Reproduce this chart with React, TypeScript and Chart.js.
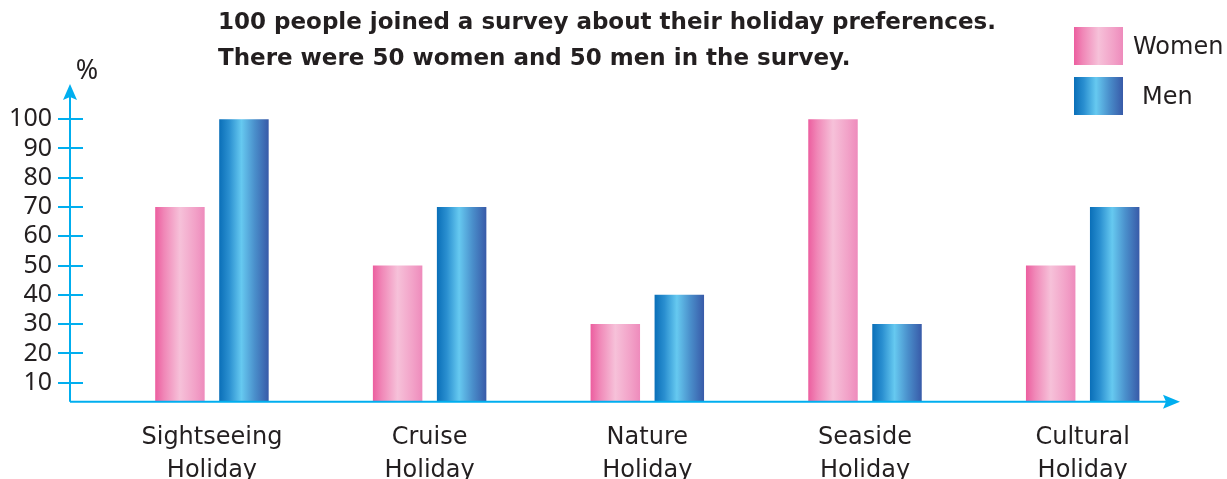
import React, { useEffect, useRef } from 'react';
import { Chart, registerables } from 'chart.js';

Chart.register(...registerables);

// ---- data ----
const titleLines = [
  '100 people joined a survey about their holiday preferences.',
  'There were 50 women and 50 men in the survey.',
];
const categories: string[][] = [
  ['Sightseeing', 'Holiday'],
  ['Cruise', 'Holiday'],
  ['Nature', 'Holiday'],
  ['Seaside', 'Holiday'],
  ['Cultural', 'Holiday'],
];
const seriesNames = ['Women', 'Men'];
const womenValues = [70, 50, 30, 100, 50];
const menValues = [100, 70, 40, 30, 70];
const yTicks = [10, 20, 30, 40, 50, 60, 70, 80, 90, 100];
const yUnit = '%';

// ---- styles ----
const pinkStops: [number, string][] = [
  [0, '#ec5e9f'],
  [0.18, '#f087b7'],
  [0.5, '#f6c1d9'],
  [0.8, '#f2a2c8'],
  [1, '#ee8bbc'],
];
const blueStops: [number, string][] = [
  [0, '#0a6fb8'],
  [0.2, '#2a8fd0'],
  [0.45, '#66c9f0'],
  [0.72, '#4a8fcb'],
  [1, '#385aa8'],
];
const seriesStops = [pinkStops, blueStops];
const AXIS = '#00aeef';
const TEXT = '#231f20';

function grad(ctx: CanvasRenderingContext2D, x0: number, x1: number, stops: [number, string][]) {
  const g = ctx.createLinearGradient(x0, 0, x1, 0);
  stops.forEach(([o, c]) => g.addColorStop(o, c));
  return g;
}

const decor = {
  id: 'decor',
  beforeDatasetsDraw(chart: any) {
    const ctx = chart.ctx;
    chart.data.datasets.forEach((_ds: any, di: number) => {
      const meta = chart.getDatasetMeta(di);
      meta.data.forEach((bar: any) => {
        const { x, width } = bar.getProps(['x', 'width'], true);
        const g = grad(ctx, x - width / 2, x + width / 2, seriesStops[di]);
        bar.options = Object.assign({}, bar.options, { backgroundColor: g });
      });
    });
  },
  afterDraw(chart: any) {
    const ctx: CanvasRenderingContext2D = chart.ctx;
    const { left, right, top, bottom } = chart.chartArea;
    const yScale = chart.scales.y;
    ctx.save();
    // axes
    ctx.strokeStyle = AXIS;
    ctx.fillStyle = AXIS;
    ctx.lineWidth = 2;
    ctx.beginPath();
    ctx.moveTo(left, bottom);
    ctx.lineTo(left, top + 12);
    ctx.moveTo(left, bottom);
    ctx.lineTo(right - 12, bottom);
    ctx.stroke();
    // tick marks
    ctx.beginPath();
    yTicks.forEach((v) => {
      const py = Math.round(yScale.getPixelForValue(v));
      ctx.moveTo(left - 12, py);
      ctx.lineTo(left + 13, py);
    });
    ctx.stroke();
    // arrows
    ctx.beginPath();
    ctx.moveTo(left, top);
    ctx.lineTo(left - 7, top + 16);
    ctx.lineTo(left, top + 13);
    ctx.lineTo(left + 7, top + 16);
    ctx.closePath();
    ctx.fill();
    ctx.beginPath();
    ctx.moveTo(right, bottom);
    ctx.lineTo(right - 17, bottom - 7);
    ctx.lineTo(right - 14, bottom);
    ctx.lineTo(right - 17, bottom + 7);
    ctx.closePath();
    ctx.fill();
    // unit
    ctx.fillStyle = TEXT;
    ctx.font = '27px "Noto Sans"';
    ctx.textAlign = 'center';
    ctx.textBaseline = 'middle';
    ctx.fillText(yUnit, left + 17, top - 13);
    // title
    ctx.font = 'bold 23px "DejaVu Sans"';
    ctx.textAlign = 'left';
    titleLines.forEach((t, i) => ctx.fillText(t, 218, 23 + i * 36));
    // legend
    const legX = [1133, 1142];
    seriesNames.forEach((name, i) => {
      const sy = 27 + i * 50;
      ctx.fillStyle = grad(ctx, 1074, 1123, seriesStops[i]);
      ctx.fillRect(1074, sy, 49, 38);
      ctx.fillStyle = TEXT;
      ctx.font = '24px "DejaVu Sans"';
      ctx.textAlign = 'left';
      ctx.textBaseline = 'middle';
      ctx.fillText(name, legX[i], sy + 21);
    });
    ctx.restore();
  },
};

export default function App() {
  const ref = useRef<HTMLCanvasElement | null>(null);
  useEffect(() => {
    if (!ref.current) return;
    const chart = new Chart(ref.current, {
      type: 'bar',
      data: {
        datasets: [
          {
            label: seriesNames[0],
            data: womenValues.map((v, i) => ({ x: i, y: v })),
            backgroundColor: '#f4a9cc',
            borderWidth: 0,
          },
          {
            label: seriesNames[1],
            data: menValues.map((v, i) => ({ x: i, y: v })),
            backgroundColor: '#2a8fd0',
            borderWidth: 0,
          },
        ],
      },
      options: {
        responsive: false,
        animation: false,
        devicePixelRatio: 1,
        categoryPercentage: 0.588,
        barPercentage: 0.773,
        layout: { padding: { top: 84, right: 47, left: 0, bottom: 0 } },
        plugins: {
          legend: { display: false },
          title: { display: false },
          tooltip: { enabled: false },
        },
        scales: {
          x: {
            type: 'linear',
            offset: false,
            min: -0.652,
            max: 4.447,
            grid: { display: false, offset: false },
            border: { display: false },
            afterBuildTicks: (s: any) => {
              s.ticks = categories.map((_c, i) => ({ value: i }));
            },
            afterFit: (s: any) => {
              s.height = 77.3;
            },
            ticks: {
              autoSkip: false,
              maxRotation: 0,
              padding: 12,
              color: TEXT,
              font: { family: '"DejaVu Sans"', size: 24, lineHeight: 1.35 },
              callback: (v: any) => categories[Math.round(Number(v))] || '',
            },
          },
          y: {
            type: 'linear',
            min: 3.5,
            max: 112,
            grid: { display: false },
            border: { display: false },
            afterBuildTicks: (s: any) => {
              s.ticks = yTicks.map((v) => ({ value: v }));
            },
            afterFit: (s: any) => {
              s.width = 70;
            },
            ticks: {
              padding: 10,
              color: TEXT,
              font: { family: '"Noto Sans"', size: 25 },
            },
          },
        },
      },
      plugins: [decor],
    });
    return () => chart.destroy();
  }, []);
  return (
    <div style={{ position: 'absolute', left: 0, top: 0, width: 1227, height: 479, background: '#fff' }}>
      <canvas ref={ref} width={1227} height={479} style={{ display: 'block' }} />
    </div>
  );
}
